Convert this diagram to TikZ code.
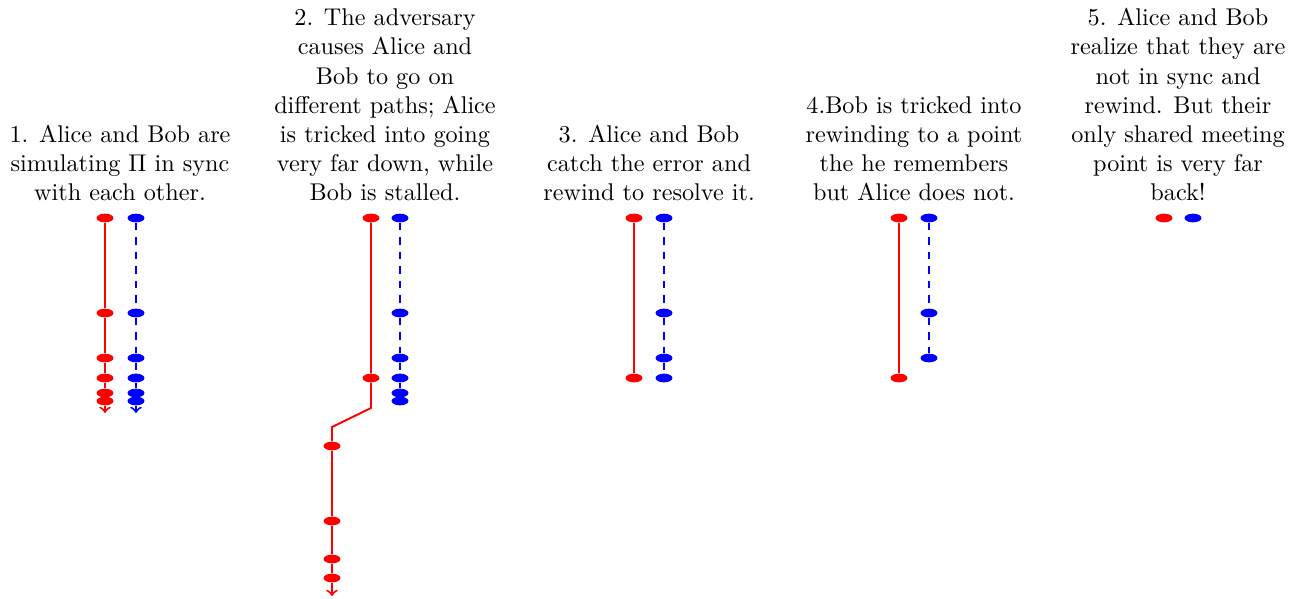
\documentclass[tikz,border=0pt]{standalone}
\usetikzlibrary{shapes.geometric}
\begin{document}
\begin{tikzpicture}[x=0.413pt,y=0.413pt,yscale=-1,xscale=1,
  alice/.style={ellipse,fill=red,inner sep=0pt,minimum width=7pt,minimum height=3.6pt},
  bob/.style={ellipse,fill=blue,inner sep=0pt,minimum width=7pt,minimum height=3.6pt},
  aline/.style={draw=red,thick},
  bline/.style={draw=blue,thick,dashed},
  caption/.style={align=center,anchor=south,inner sep=0pt}]
\useasboundingbox (0,0) rectangle (1303,598);

% Text Node
\node [caption] (t1) at (120,201) {1. Alice and Bob are\\simulating $\Pi$ in sync\\with each other.};
% Text Node
\node [caption] (t2) at (385,201) {2. The adversary\\causes Alice and\\Bob to go on\\different paths; Alice\\is tricked into going\\very far down, while\\Bob is stalled.};
% Text Node
\node [caption] (t3) at (649,201) {3. Alice and Bob\\catch the error and\\rewind to resolve it.};
% Text Node
\node [caption] (t4) at (914,201) {4.Bob is tricked into\\rewinding to a point\\the he remembers\\but Alice does not.};
% Text Node
\node [caption] (t5) at (1178,201) {5. Alice and Bob\\realize that they are\\not in sync and\\rewind. But their\\only shared meeting\\point is very far\\back!};

%Panel 1
\node [alice] (a11) at (105,218) {};
\node [alice] (a12) at (105,313) {};
\node [alice] (a13) at (105,358) {};
\node [alice] (a14) at (105,378) {};
\node [alice] (a15) at (105,393) {};
\node [alice] (a16) at (105,401) {};
\coordinate (a1e) at (105,413);
\node [bob] (b11) at (136,218) {};
\node [bob] (b12) at (136,313) {};
\node [bob] (b13) at (136,358) {};
\node [bob] (b14) at (136,378) {};
\node [bob] (b15) at (136,393) {};
\node [bob] (b16) at (136,401) {};
\coordinate (b1e) at (136,413);
\draw [aline] (a11) -- (a12) -- (a13) -- (a14) -- (a15) -- (a16);
\draw [aline,->] (a16) -- (a1e);
\draw [bline] (b11) -- (b12) -- (b13) -- (b14) -- (b15) -- (b16);
\draw [bline,->] (b16) -- (b1e);

%Panel 2
\node [alice] (a21) at (371,218) {};
\node [alice] (a22) at (371,378) {};
\coordinate (a2k) at (371,408);
\coordinate (a2l) at (332,427);
\node [alice] (a23) at (332,446) {};
\node [alice] (a24) at (332,521) {};
\node [alice] (a25) at (332,559) {};
\node [alice] (a26) at (332,578) {};
\coordinate (a2e) at (332,596);
\node [bob] (b21) at (400,218) {};
\node [bob] (b22) at (400,313) {};
\node [bob] (b23) at (400,358) {};
\node [bob] (b24) at (400,378) {};
\node [bob] (b25) at (400,393) {};
\node [bob] (b26) at (400,401) {};
\draw [aline] (a21) -- (a22) -- (a2k) -- (a2l) -- (a23) -- (a24) -- (a25) -- (a26);
\draw [aline,->] (a26) -- (a2e);
\draw [bline] (b21) -- (b22) -- (b23) -- (b24) -- (b25) -- (b26);

%Panel 3
\node [alice] (a31) at (634,218) {};
\node [alice] (a32) at (634,378) {};
\node [bob] (b31) at (664,218) {};
\node [bob] (b32) at (664,313) {};
\node [bob] (b33) at (664,358) {};
\node [bob] (b34) at (664,378) {};
\draw [aline] (a31) -- (a32);
\draw [bline] (b31) -- (b32) -- (b33) -- (b34);

%Panel 4
\node [alice] (a41) at (899,218) {};
\node [alice] (a42) at (899,378) {};
\node [bob] (b41) at (929,218) {};
\node [bob] (b42) at (929,313) {};
\node [bob] (b43) at (929,358) {};
\draw [aline] (a41) -- (a42);
\draw [bline] (b41) -- (b42) -- (b43);

%Panel 5
\node [alice] (a51) at (1164,218) {};
\node [bob] (b51) at (1193,218) {};

\end{tikzpicture}
\end{document}
